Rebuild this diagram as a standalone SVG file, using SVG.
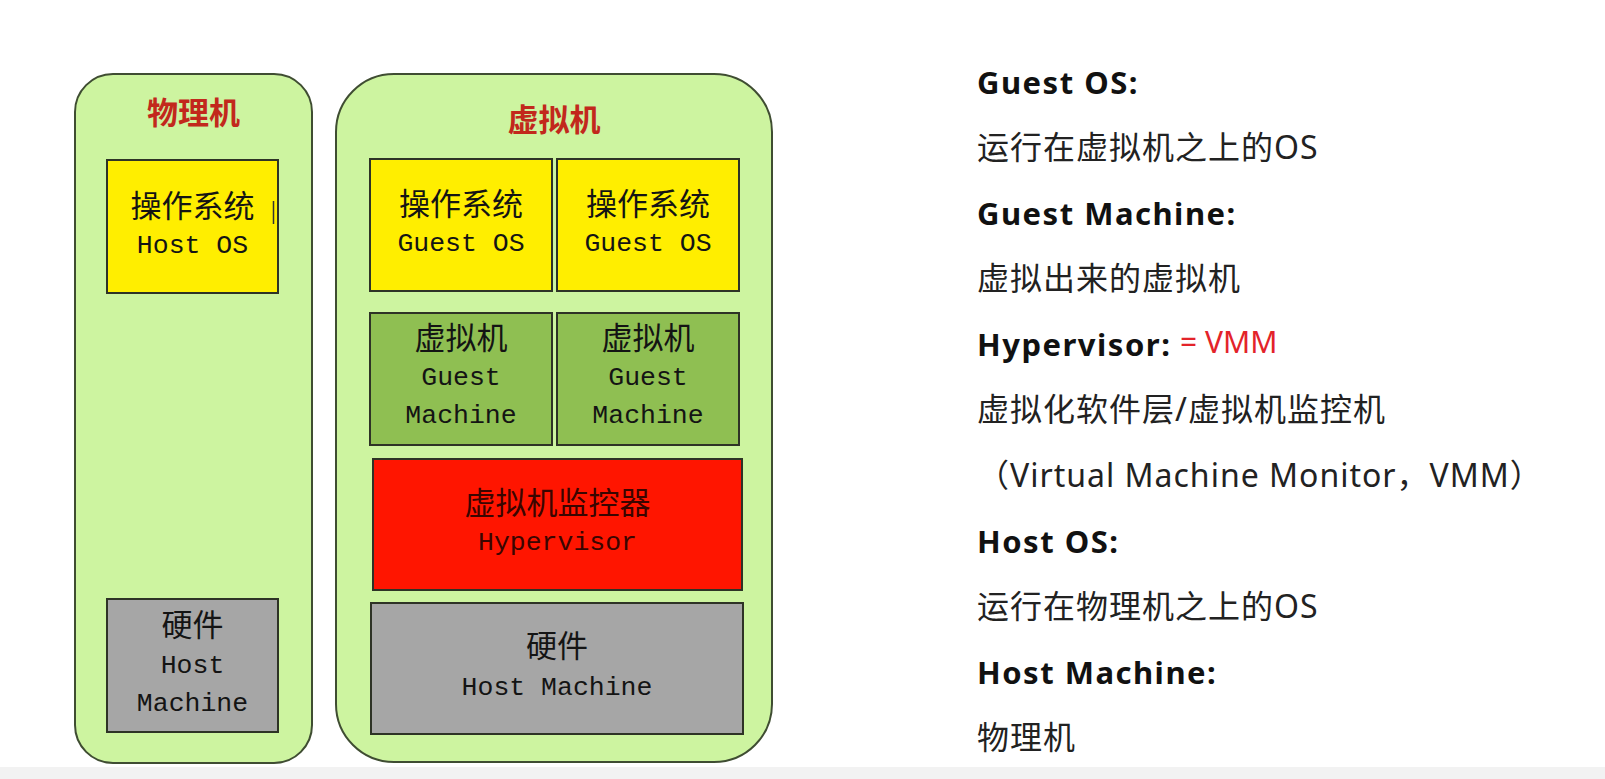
<svg xmlns="http://www.w3.org/2000/svg" width="1605" height="779" viewBox="0 0 1605 779">
<style>
.cont{fill:#cdf4a0;stroke:#3f4d32;stroke-width:2}
.box{stroke:#2e3326;stroke-width:2}
.y{fill:#ffee00}
.g{fill:#8fbf52}
.r{fill:#ff1500}
.gr{fill:#a6a6a6}
.title{font-family:"Noto Sans CJK SC",sans-serif;font-weight:bold;font-size:31px;fill:#c2281c;text-anchor:middle}
.cn{font-family:"Noto Sans CJK SC",sans-serif;font-size:31px;fill:#141414;text-anchor:middle}
.en{font-family:"Liberation Mono","DejaVu Sans Mono",monospace;font-size:26.5px;fill:#141414;text-anchor:middle}
.dark{fill:#3a0500}
.h{font-family:"Noto Sans","Noto Sans CJK SC",sans-serif;font-weight:bold;font-size:31px;letter-spacing:1.5px;fill:#111}
.t{font-family:"Noto Sans","Noto Sans CJK SC",sans-serif;font-size:32px;letter-spacing:1px;fill:#222}
.red{font-family:"Noto Sans",sans-serif;font-size:30px;fill:#e3232a}
</style>
<rect x="0" y="0" width="1605" height="779" fill="#ffffff"/>
<rect x="0" y="767" width="1605" height="12" fill="#f2f2f2"/>

<g id="physical">
<rect class="cont" x="75" y="74" width="237" height="689" rx="38" ry="38"/>
<text class="title" x="193.5" y="124">物理机</text>
</g>
<g id="host-os">
<rect class="box y" x="107" y="160" width="171" height="133"/>
<text class="cn" x="192.5" y="217">操作系统</text>
<text class="en" x="192.5" y="253">Host OS</text>
<line x1="273.5" y1="201" x2="273.5" y2="224" stroke="#333" stroke-width="1.5"/>
</g>
<g id="host-hw-left">
<rect class="box gr" x="107" y="599" width="171" height="133"/>
<text class="cn" x="192.5" y="636">硬件</text>
<text class="en" x="192.5" y="673">Host</text>
<text class="en" x="192.5" y="711">Machine</text>
</g>

<g id="virtual">
<rect class="cont" x="336" y="74" width="436" height="688" rx="58" ry="58"/>
<text class="title" x="554" y="131">虚拟机</text>
</g>
<g id="guest-os-1">
<rect class="box y" x="370" y="159" width="182" height="132"/>
<text class="cn" x="461" y="215">操作系统</text>
<text class="en" x="461" y="251">Guest OS</text>
</g>
<g id="guest-os-2">
<rect class="box y" x="557" y="159" width="182" height="132"/>
<text class="cn" x="648" y="215">操作系统</text>
<text class="en" x="648" y="251">Guest OS</text>
</g>
<g id="guest-machine-1">
<rect class="box g" x="370" y="313" width="182" height="132"/>
<text class="cn" x="461" y="349">虚拟机</text>
<text class="en" x="461" y="385">Guest</text>
<text class="en" x="461" y="423">Machine</text>
</g>
<g id="guest-machine-2">
<rect class="box g" x="557" y="313" width="182" height="132"/>
<text class="cn" x="648" y="349">虚拟机</text>
<text class="en" x="648" y="385">Guest</text>
<text class="en" x="648" y="423">Machine</text>
</g>
<g id="hypervisor">
<rect class="box r" x="373" y="459" width="369" height="131"/>
<text class="cn dark" x="557.5" y="514">虚拟机监控器</text>
<text class="en dark" x="557.5" y="550">Hypervisor</text>
</g>
<g id="host-hw-right">
<rect class="box gr" x="371" y="603" width="372" height="131"/>
<text class="cn" x="557" y="657">硬件</text>
<text class="en" x="557" y="695">Host Machine</text>
</g>

<g id="connectors"></g>

<g id="glossary">
<text class="h" x="977" y="94">Guest OS:</text>
<text class="t" x="977" y="159">运行在虚拟机之上的OS</text>
<text class="h" x="977" y="225">Guest Machine:</text>
<text class="t" x="977" y="290">虚拟出来的虚拟机</text>
<text class="h" x="977" y="356">Hypervisor:</text>
<text class="red" x="1180" y="353">= VMM</text>
<text class="t" x="977" y="421" letter-spacing="0.5">虚拟化软件层/虚拟机监控机</text>
<text class="t" x="977" y="487" letter-spacing="0.3">（Virtual Machine Monitor，VMM）</text>
<text class="h" x="977" y="553">Host OS:</text>
<text class="t" x="977" y="618">运行在物理机之上的OS</text>
<text class="h" x="977" y="684">Host Machine:</text>
<text class="t" x="977" y="749">物理机</text>
</g>
</svg>
